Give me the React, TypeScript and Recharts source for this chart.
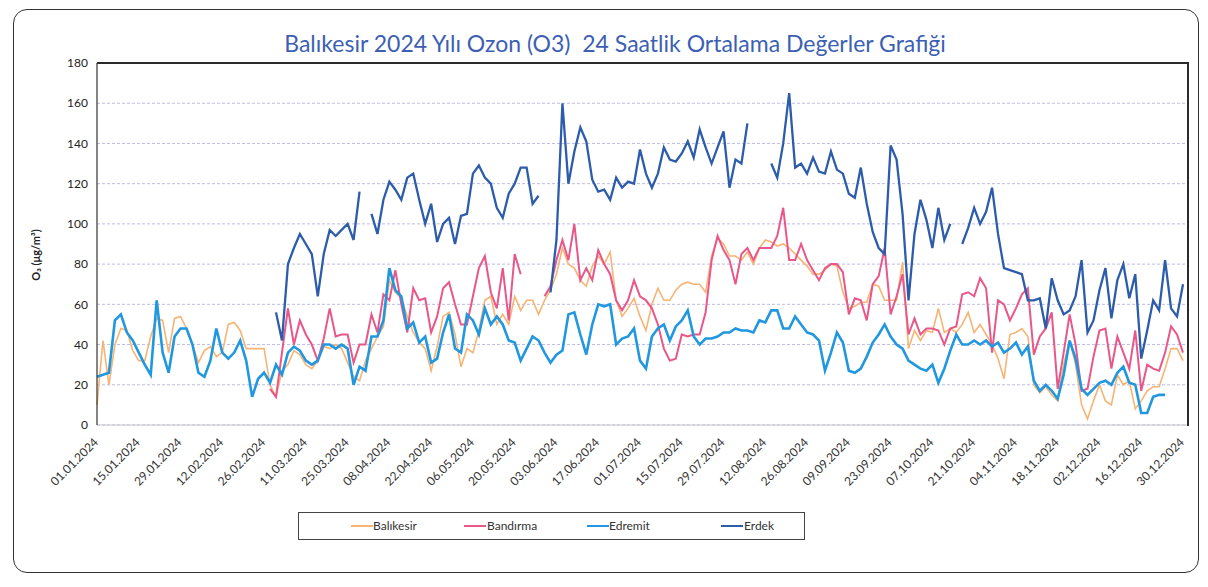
import React from 'react';
import { LineChart, Line, XAxis, YAxis, CartesianGrid } from 'recharts';

// one point every two days, 01.01.2024 .. 30.12.2024
const START = Date.UTC(2024, 0, 1);
const pad = (n: number) => String(n).padStart(2, '0');
const dates: string[] = Array.from({ length: 183 }, (_, i) => {
    const d = new Date(START + i * 2 * 86400000);
    return `${pad(d.getUTCDate())}.${pad(d.getUTCMonth() + 1)}.${d.getUTCFullYear()}`;
});

const tickLabels = [
    '01.01.2024', '15.01.2024', '29.01.2024', '12.02.2024', '26.02.2024', '11.03.2024',
    '25.03.2024', '08.04.2024', '22.04.2024', '06.05.2024', '20.05.2024', '03.06.2024',
    '17.06.2024', '01.07.2024', '15.07.2024', '29.07.2024', '12.08.2024', '26.08.2024',
    '09.09.2024', '23.09.2024', '07.10.2024', '21.10.2024', '04.11.2024', '18.11.2024',
    '02.12.2024', '16.12.2024', '30.12.2024',
];

const yTicks = [0, 20, 40, 60, 80, 100, 120, 140, 160, 180];

const balikesir = [
    10, 42, 20, 40, 48, 47, 37,
    32, 32, 44, 53, 52, 36, 53,
    54, 48, 40, 31, 37, 39, 34,
    36, 50, 51, 47, 38, 38, 38,
    38, 20, 14, 27, 30, 37, 35,
    30, 28, 32, 39, 38, 40, 38,
    31, 24, 22, 32, 38, 44, 49,
    72, 66, 63, 54, 46, 41, 38,
    27, 39, 54, 56, 45, 29, 38,
    36, 47, 62, 64, 50, 55, 50,
    64, 57, 62, 62, 55, 62, 67,
    75, 88, 80, 78, 72, 69, 79,
    84, 80, 86, 62, 54, 58, 63,
    54, 47, 60, 68, 62, 62, 67,
    70, 71, 70, 70, 66, 84, 93,
    90, 84, 84, 82, 86, 80, 88,
    92, 91, 89, 90, 88, 85, 82,
    79, 75, 75, 77, 80, 79, 66,
    58, 59, 61, 61, 70, 69, 62,
    62, 62, 81, 38, 47, 42, 47,
    46, 58, 46, 48, 46, 50, 56,
    46, 50, 45, 40, 33, 23, 45,
    46, 48, 44, 20, 16, 19, 15,
    12, 30, 42, 30, 10, 3, 12,
    20, 12, 10, 25, 20, 22, 8,
    12, 17, 19, 19, 28, 38, 38,
    32,
];

const bandirma = [
    null, null, null, null, null, null, null,
    null, null, null, null, null, null, null,
    null, null, null, null, null, null, null,
    null, null, null, null, null, null, null,
    null, 18, 14, 36, 58, 40, 52,
    45, 40, 32, 43, 58, 44, 45,
    45, 31, 40, 40, 55, 46, 65,
    62, 77, 60, 46, 68, 62, 63,
    46, 54, 68, 71, 60, 50, 50,
    64, 78, 84, 66, 58, 78, 52,
    85, 75, null, null, null, 64, 69,
    82, 92, 82, 100, 72, 78, 72,
    87, 80, 75, 62, 57, 62, 72,
    64, 62, 58, 50, 38, 32, 33,
    45, 44, 45, 45, 56, 82, 94,
    87, 82, 70, 85, 88, 82, 88,
    88, 88, 94, 108, 82, 82, 90,
    82, 77, 72, 78, 80, 80, 76,
    55, 63, 62, 52, 70, 74, 88,
    55, 64, 75, 45, 53, 45, 48,
    48, 47, 40, 48, 49, 65, 66,
    64, 73, 68, 36, 62, 60, 52,
    58, 65, 68, 35, 44, 48, 56,
    18, 36, 55, 40, 17, 18, 34,
    47, 48, 28, 44, 36, 28, 47,
    17, 30, 28, 27, 36, 49, 45,
    36,
];

const edremit = [
    24, 25, 26, 52, 55, 46, 42,
    36, 30, 25, 62, 36, 26, 44,
    48, 48, 40, 26, 24, 32, 48,
    36, 33, 36, 42, 32, 14, 23,
    26, 21, 30, 25, 36, 39, 37,
    32, 30, 32, 40, 40, 38, 40,
    38, 20, 29, 27, 44, 44, 52,
    78, 67, 64, 48, 51, 41, 44,
    31, 33, 46, 55, 38, 36, 55,
    52, 45, 58, 50, 54, 50, 42,
    41, 32, 38, 44, 42, 36, 31,
    35, 37, 55, 56, 45, 35, 50,
    60, 59, 60, 40, 43, 44, 48,
    32, 28, 44, 48, 50, 42, 49,
    52, 57, 44, 40, 43, 43, 44,
    46, 46, 48, 47, 47, 46, 52,
    51, 57, 57, 48, 48, 54, 50,
    46, 45, 42, 27, 36, 46, 41,
    27, 26, 28, 34, 41, 45, 50,
    44, 40, 38, 32, 30, 28, 27,
    30, 21, 28, 37, 45, 40, 40,
    42, 40, 42, 39, 41, 36, 38,
    41, 35, 39, 22, 17, 20, 17,
    13, 25, 42, 33, 18, 15, 18,
    21, 22, 20, 26, 29, 21, 20,
    6, 6, 14, 15, 15, null, null,
    null,
];

const erdek = [
    null, null, null, null, null, null, null,
    null, null, null, null, null, null, null,
    null, null, null, null, null, null, null,
    null, null, null, null, null, null, null,
    null, null, 56, 42, 80, 88, 95,
    90, 85, 64, 85, 97, 94, 97,
    100, 92, 116, null, 105, 95, 112,
    121, 117, 112, 123, 125, 112, 100,
    110, 91, 100, 103, 90, 104, 105,
    125, 129, 123, 120, 108, 103, 115,
    120, 128, 128, 110, 114, null, 66,
    92, 160, 120, 136, 148, 141, 122,
    116, 117, 112, 123, 118, 121, 120,
    137, 125, 118, 125, 138, 132, 131,
    135, 141, 133, 147, 138, 130, 138,
    146, 118, 132, 130, 150, null, 120,
    null, 130, 123, 140, 165, 128, 130,
    125, 133, 126, 125, 136, 127, 125,
    115, 113, 128, 110, 96, 88, 85,
    139, 132, 105, 62, 95, 112, 102,
    88, 108, 92, 100, null, 90, 98,
    108, 100, 106, 118, 95, 78, 77,
    76, 75, 62, 62, 63, 48, 73,
    62, 55, 57, 64, 82, 46, 52,
    67, 78, 53, 72, 80, 63, 75,
    33, 47, 62, 57, 82, 58, 54,
    70,
];

const series = [
    { key: 'balikesir', name: 'Balıkesir', color: '#f7b474', width: 1.6 },
    { key: 'bandirma', name: 'Bandırma', color: '#e9578a', width: 2 },
    { key: 'edremit', name: 'Edremit', color: '#2097df', width: 2.6 },
    { key: 'erdek', name: 'Erdek', color: '#2d5cab', width: 2.3 },
];

const data = dates.map((date, i) => ({
    date,
    balikesir: balikesir[i],
    bandirma: bandirma[i],
    edremit: edremit[i],
    erdek: erdek[i],
}));

const FONT = 'Lato, "Open Sans", sans-serif';

function DateTick({ x, y, payload }: any) {
    const tx = x + 2;
    const ty = y + 10;
    return (
        <text
            x={tx}
            y={ty}
            transform={`rotate(-45 ${tx} ${ty})`}
            textAnchor="end"
            fontSize={12}
            fontFamily={FONT}
            fill="#333"
        >
            {payload.value}
        </text>
    );
}

const legendPos = [
    { line: 350, text: 372 },
    { line: 463, text: 486 },
    { line: 586, text: 608 },
    { line: 720, text: 743 },
];

export default function App() {
    return (
        <div
            style={{
                position: 'absolute',
                left: 0,
                top: 0,
                width: 1208,
                height: 587,
                background: '#fff',
                fontFamily: FONT,
            }}
        >
            <div
                style={{
                    position: 'absolute',
                    left: 13,
                    top: 9,
                    width: 1186,
                    height: 564,
                    border: '1.5px solid #333',
                    borderRadius: 14,
                    boxSizing: 'border-box',
                }}
            />
            <div
                style={{
                    position: 'absolute',
                    left: 0,
                    top: 29,
                    width: 1230,
                    textAlign: 'center',
                    fontSize: 23,
                    color: '#3c5fb4',
                    whiteSpace: 'pre',
                }}
            >
                {'Balıkesir 2024 Yılı Ozon (O3)  24 Saatlik Ortalama Değerler Grafiği'}
            </div>
            <div
                style={{
                    position: 'absolute',
                    left: 35,
                    top: 255,
                    transform: 'translate(-50%, -50%) rotate(-90deg)',
                    fontSize: 11,
                    fontWeight: 700,
                    color: '#222',
                    whiteSpace: 'nowrap',
                }}
            >
                O₃ (μg/m³)
            </div>
            <div style={{ position: 'absolute', left: 0, top: 0 }}>
                <LineChart
                    width={1208}
                    height={587}
                    data={data}
                    margin={{ top: 63, right: 21, bottom: 102, left: 57 }}
                >
                    <CartesianGrid
                        vertical={false}
                        stroke="#bcbce6"
                        strokeDasharray="3 2"
                    />
                    <XAxis
                        dataKey="date"
                        ticks={tickLabels}
                        interval={0}
                        height={60}
                        padding={{ left: 0, right: 4 }}
                        tick={<DateTick />}
                        tickLine={false}
                        axisLine={{ stroke: '#c8c8c8' }}
                    />
                    <YAxis
                        domain={[0, 180]}
                        ticks={yTicks}
                        width={40}
                        tickLine={false}
                        tickSize={6}
                        tickMargin={3}
                        axisLine={{ stroke: '#333', strokeWidth: 1.2 }}
                        tick={{ fontSize: 12, fill: '#222', fontFamily: FONT }}
                    />
                    {series.map((s) => (
                        <Line
                            key={s.key}
                            type="linear"
                            dataKey={s.key}
                            name={s.name}
                            stroke={s.color}
                            strokeWidth={s.width}
                            dot={false}
                            isAnimationActive={false}
                        />
                    ))}
                </LineChart>
            </div>
            <div
                style={{
                    position: 'absolute',
                    left: 97,
                    top: 62,
                    width: 1092,
                    height: 364,
                    borderTop: '2px solid #2a2a2a',
                    borderRight: '2px solid #2a2a2a',
                    boxSizing: 'border-box',
                    pointerEvents: 'none',
                }}
            />
            <div
                style={{
                    position: 'absolute',
                    left: 298,
                    top: 512,
                    width: 507,
                    height: 28,
                    border: '1px solid #444',
                    boxSizing: 'border-box',
                }}
            >
                {series.map((s, i) => (
                    <React.Fragment key={s.key}>
                        <div
                            style={{
                                position: 'absolute',
                                left: legendPos[i].line - 298,
                                top: 12,
                                width: 22,
                                height: 2,
                                background: s.color,
                            }}
                        />
                        <div
                            style={{
                                position: 'absolute',
                                left: legendPos[i].text - 298,
                                top: 5,
                                fontSize: 12,
                                color: '#333',
                            }}
                        >
                            {s.name}
                        </div>
                    </React.Fragment>
                ))}
            </div>
        </div>
    );
}
